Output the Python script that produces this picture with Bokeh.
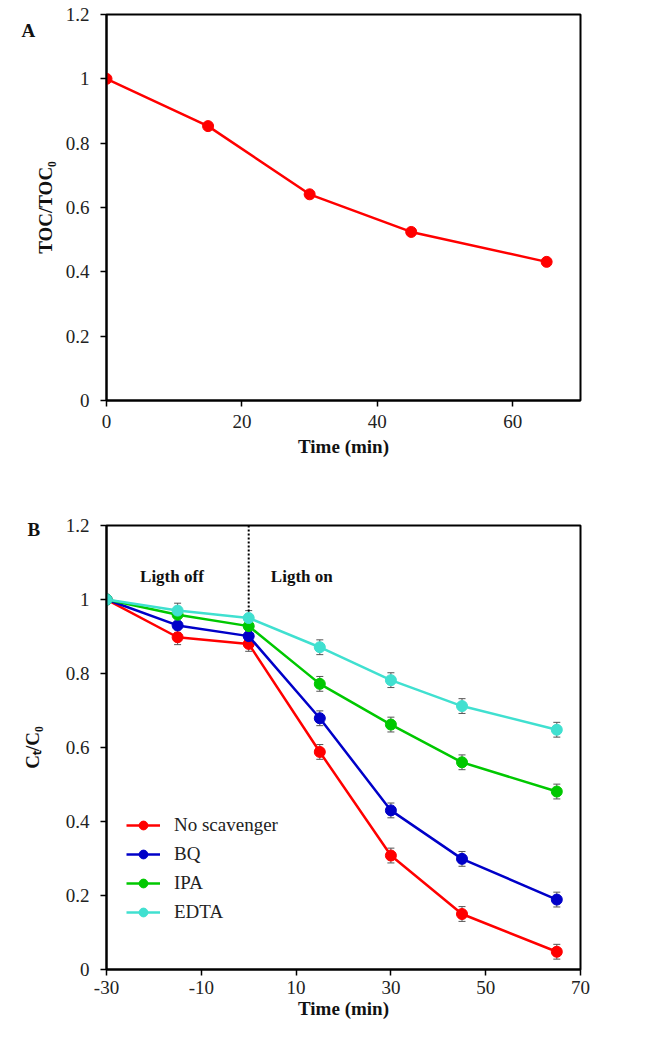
from bokeh.plotting import figure
from bokeh.models import (ColumnDataSource, Whisker, TeeHead, Legend, LegendItem,
                          Title, FixedTicker, NumeralTickFormatter, Range1d)
from bokeh.layouts import column
from bokeh.embed import file_html
from bokeh.resources import INLINE
from bokeh.core.properties import value

# ---------------- data ----------------
# Panel A: TOC removal
toc_time = [0, 15, 30, 45, 65]
toc_ratio = [1.0, 0.853, 0.641, 0.524, 0.431]

# Panel B: scavenger experiments
time_b = [-30, -15, 0, 15, 30, 45, 65]
no_scavenger = [1.0, 0.898, 0.880, 0.588, 0.308, 0.150, 0.048]
bq = [1.0, 0.930, 0.901, 0.679, 0.430, 0.299, 0.189]
ipa = [1.0, 0.959, 0.928, 0.772, 0.662, 0.560, 0.481]
edta = [1.0, 0.970, 0.950, 0.871, 0.782, 0.712, 0.648]
error_b = [0.01, 0.02, 0.02, 0.02, 0.02, 0.02, 0.02]

series_names = ["No scavenger", "BQ", "IPA", "EDTA"]
series_colors = ["#ff0000", "#0000c8", "#00c800", "#40e0d0"]

divider_time = [0, 0]
divider_level = [1.2, 0.865]
phase_labels = ["Ligth off", "Ligth on"]
phase_x = [-16.2, 11.2]
phase_y = [1.061, 1.061]

ticks_y = [0, 0.2, 0.4, 0.6, 0.8, 1.0, 1.2]
ticks_x_a = [0, 20, 40, 60]
ticks_x_b = [-30, -10, 10, 30, 50, 70]

FONT = "Liberation Serif"


def style(p, xticks, ylabel_standoff, xlabel_standoff, xmajor_standoff):
    p.xgrid.visible = False
    p.ygrid.visible = False
    p.outline_line_color = "black"
    p.outline_line_width = 2
    p.outline_line_alpha = 1
    for ax in (p.xaxis[0], p.yaxis[0]):
        ax.axis_line_width = 2
        ax.axis_line_color = "black"
        ax.major_tick_line_width = 1.5
        ax.major_tick_line_color = "black"
        ax.major_tick_out = 6
        ax.major_tick_in = 0
        ax.minor_tick_line_color = None
        ax.major_label_text_font = FONT
        ax.major_label_text_font_size = "19px"
        ax.major_label_text_color = "#222222"
        ax.axis_label_text_font = FONT
        ax.axis_label_text_font_style = "bold"
        ax.axis_label_text_font_size = "19px"
        ax.axis_label_text_color = "#111111"
    p.yaxis[0].ticker = FixedTicker(ticks=ticks_y)
    p.yaxis[0].formatter = NumeralTickFormatter(format="0.[0]")
    p.yaxis[0].major_label_standoff = 11
    p.yaxis[0].axis_label_standoff = ylabel_standoff
    p.xaxis[0].ticker = FixedTicker(ticks=xticks)
    p.xaxis[0].formatter = NumeralTickFormatter(format="0")
    p.xaxis[0].major_label_standoff = xmajor_standoff
    p.xaxis[0].axis_label_standoff = xlabel_standoff


def panel_letter(p, letter, offset, standoff):
    p.add_layout(Title(text=letter, align="left", offset=offset, standoff=standoff,
                       vertical_align="bottom", text_font=FONT, text_font_style="bold",
                       text_font_size="19px", text_color="#111111"), "above")


# ---------------- panel A ----------------
pa = figure(width=654, height=482, x_range=Range1d(0, 70), y_range=Range1d(0, 1.2),
            output_backend="svg", toolbar_location=None,
            min_border_left=88, min_border_right=74, min_border_top=14, min_border_bottom=82,
            x_axis_label="Time (min)", y_axis_label="TOC/TOC\u2080")
style(pa, ticks_x_a, ylabel_standoff=7, xlabel_standoff=5, xmajor_standoff=8)
pa.line(toc_time, toc_ratio, line_color="#ff0000", line_width=2.5)
pa.scatter(toc_time, toc_ratio, size=11, fill_color="#ff0000", line_color="#ff0000")
panel_letter(pa, "A", offset=-85, standoff=-52)

# ---------------- panel B ----------------
pb = figure(width=654, height=544, x_range=Range1d(-30, 70), y_range=Range1d(0, 1.2),
            output_backend="svg", toolbar_location=None,
            min_border_left=106, min_border_right=12, min_border_top=43, min_border_bottom=57,
            x_axis_label="Time (min)", y_axis_label="C\u209c/C\u2080")
style(pb, ticks_x_b, ylabel_standoff=20, xlabel_standoff=1, xmajor_standoff=5)

pb.line(divider_time, divider_level, line_color="black", line_width=2, line_dash="2 2")
pb.text(x=phase_x, y=phase_y, text=phase_labels, text_font=value(FONT),
        text_font_style="bold", text_font_size="17px", text_align="center",
        text_baseline="middle", text_color="#111111")

legend_items = []
for name, vals, col in zip(series_names, [no_scavenger, bq, ipa, edta], series_colors):
    src = ColumnDataSource(dict(
        x=time_b, y=vals,
        upper=[v + e for v, e in zip(vals, error_b)],
        lower=[v - e for v, e in zip(vals, error_b)],
    ))
    ln = pb.line("x", "y", source=src, line_color=col, line_width=2.5)
    w = Whisker(source=src, base="x", upper="upper", lower="lower",
                line_color="#555555", line_width=1,
                upper_head=TeeHead(size=7, line_color="#555555", line_width=1),
                lower_head=TeeHead(size=7, line_color="#555555", line_width=1))
    pb.add_layout(w)
    sc = pb.scatter("x", "y", source=src, size=11, fill_color=col, line_color=col)
    legend_items.append(LegendItem(label=name, renderers=[ln, sc]))

legend = Legend(items=legend_items, location=(20, 46), background_fill_alpha=0,
                border_line_alpha=0, padding=0, margin=0, spacing=7,
                glyph_width=34, glyph_height=22, label_height=22, label_standoff=14,
                label_text_font=FONT, label_text_font_size="19px",
                label_text_color="#222222")
pb.add_layout(legend)
panel_letter(pb, "B", offset=-79, standoff=-28)

layout = column(pa, pb, spacing=0)
open("out.html", "w").write(file_html(layout, INLINE))
